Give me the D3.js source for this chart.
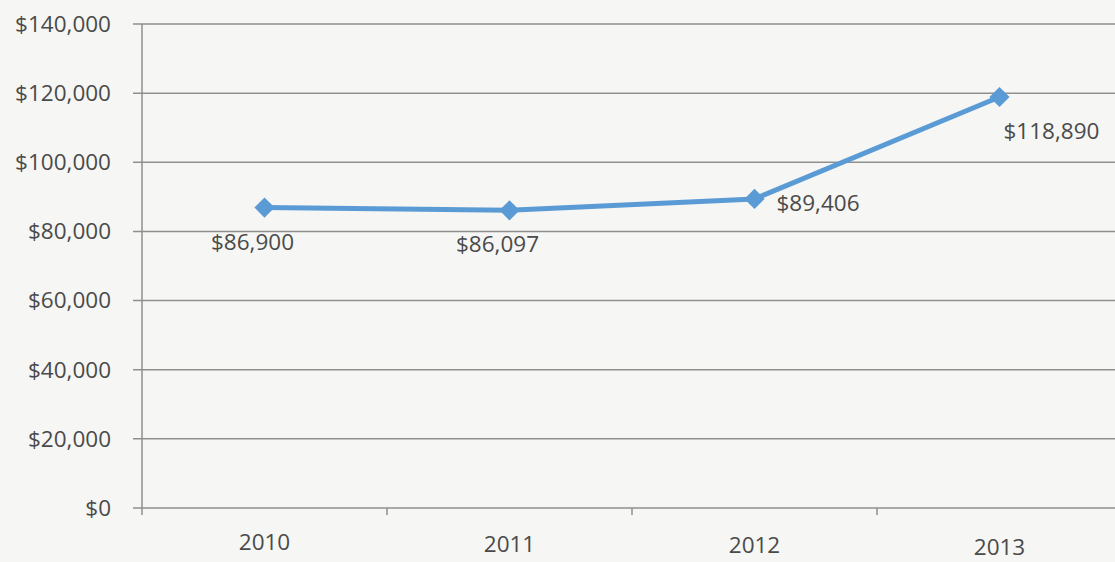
<!DOCTYPE html>
<html>
<head>
<meta charset="utf-8">
<script src="https://cdn.jsdelivr.net/npm/d3@7"></script>
<style>
  body { margin: 0; background: #f6f6f4; }
  svg { display: block; }
  text { font-family: "Open Sans", sans-serif; fill: #4a4a4a; }
</style>
</head>
<body>
<div class="container"></div>
<script>
// chart data
const years = ["2010", "2011", "2012", "2013"];
const revenue = [86900, 86097, 89406, 118890];
const yTicks = [0, 20000, 40000, 60000, 80000, 100000, 120000, 140000];
// where each value label sits relative to its point
const labelPos = ["below", "below", "right", "belowRight"];

const W = 1115, H = 562;
const margin = { top: 24, right: -7, bottom: 54, left: 142 };

const svg = d3.select("div.container").append("svg")
    .attr("width", W)
    .attr("height", H);

const x = d3.scaleBand()
    .domain(years)
    .range([margin.left, W - margin.right]);

const y = d3.scaleLinear()
    .domain([0, 140000])
    .range([H - margin.bottom, margin.top]);

const fmt = d3.format("$,");

// horizontal gridlines + y labels
svg.append("g")
    .selectAll("line")
    .data(yTicks)
    .enter()
    .append("line")
    .attr("x1", margin.left - 9)
    .attr("x2", W)
    .attr("y1", d => y(d))
    .attr("y2", d => y(d))
    .attr("stroke", "#8f8f8f")
    .attr("stroke-width", 1.5);

svg.append("g")
    .selectAll("text")
    .data(yTicks)
    .enter()
    .append("text")
    .attr("x", margin.left - 31)
    .attr("y", d => y(d))
    .attr("dy", "0.35em")
    .attr("text-anchor", "end")
    .style("font-size", "22.5px")
    .text(d => fmt(d));

// vertical axis line
svg.append("line")
    .attr("x1", margin.left)
    .attr("x2", margin.left)
    .attr("y1", y(140000))
    .attr("y2", y(0) + 7)
    .attr("stroke", "#8f8f8f")
    .attr("stroke-width", 1.5);

// x ticks between categories
svg.append("g")
    .selectAll("line")
    .data(years.slice(1))
    .enter()
    .append("line")
    .attr("x1", d => x(d))
    .attr("x2", d => x(d))
    .attr("y1", y(0))
    .attr("y2", y(0) + 7)
    .attr("stroke", "#8f8f8f")
    .attr("stroke-width", 1.5);

// x labels
svg.append("g")
    .selectAll("text")
    .data(years)
    .enter()
    .append("text")
    .attr("x", d => x(d) + x.bandwidth() / 2)
    .attr("y", (d, i) => y(0) + 42 + i * 1.5)
    .attr("text-anchor", "middle")
    .style("font-size", "22.5px")
    .text(d => d);

const pts = years.map((yr, i) => ({ yr: yr, v: revenue[i], pos: labelPos[i] }));
const cx = d => x(d.yr) + x.bandwidth() / 2;

// the line
svg.append("path")
    .datum(pts)
    .attr("fill", "none")
    .attr("stroke", "#5b9bd5")
    .attr("stroke-width", 5)
    .attr("stroke-linejoin", "round")
    .attr("d", d3.line().x(cx).y(d => y(d.v)));

// diamond markers
svg.append("g")
    .selectAll("path")
    .data(pts)
    .enter()
    .append("path")
    .attr("d", d3.symbol().type(d3.symbolDiamond2).size(260))
    .attr("transform", d => `translate(${cx(d)},${y(d.v)})`)
    .attr("fill", "#5b9bd5");

// value labels
svg.append("g")
    .selectAll("text")
    .data(pts)
    .enter()
    .append("text")
    .attr("x", d => d.pos == "below" ? cx(d) - 12 : d.pos == "right" ? cx(d) + 22 : cx(d) + 4)
    .attr("y", d => d.pos == "right" ? y(d.v) + 12 : y(d.v) + 42)
    .attr("text-anchor", d => d.pos == "below" ? "middle" : "start")
    .style("font-size", "22.5px")
    .text(d => fmt(d.v));
</script>
</body>
</html>
